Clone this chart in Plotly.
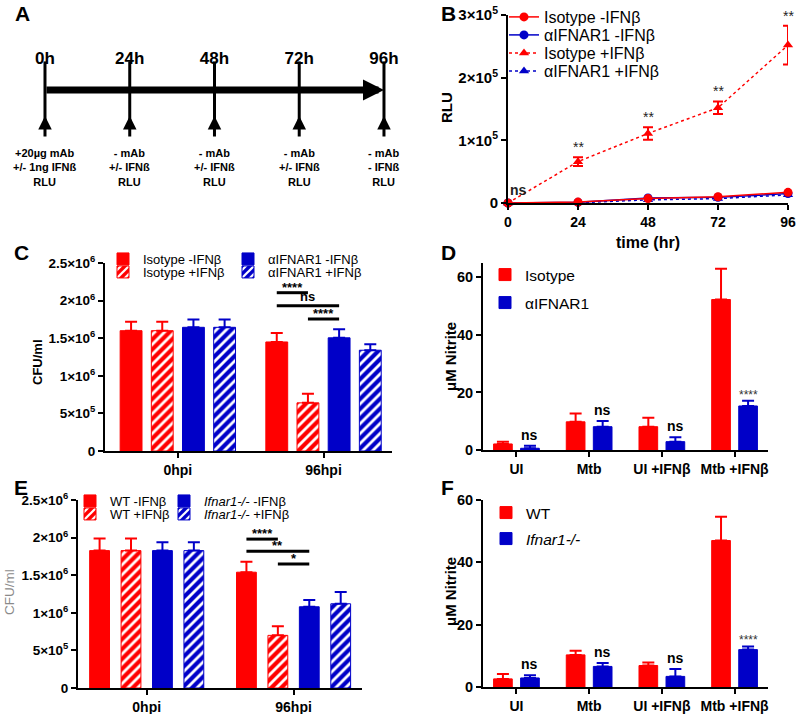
import plotly.graph_objects as go

W, H = 800, 714
def fx(p): return p / W
def fy(p): return 1 - p / H

RED = '#FF0000'
BLUE = '#0000C8'
FONT = 'Liberation Sans, Arial, sans-serif'

# ---------------- data ----------------
# Panel A (timeline)
timeline_hours = [0, 24, 48, 72, 96]
timeline_labels = ['0h', '24h', '48h', '72h', '96h']
timeline_notes = ['+20µg mAb<br>+/- 1ng IFNß<br>RLU',
                  '- mAb<br>+/- IFNß<br>RLU',
                  '- mAb<br>+/- IFNß<br>RLU',
                  '- mAb<br>+/- IFNß<br>RLU',
                  '- mAb<br>- IFNß<br>RLU']

# Panel B (RLU over time)
time_hr = [0, 24, 48, 72, 96]
rlu_iso_minus = [0, 1500, 7000, 10000, 17000]
rlu_anti_minus = [0, 1000, 8000, 9000, 15000]
rlu_iso_plus = [0, 66000, 111000, 152000, 252000]
rlu_iso_plus_err = [0, 7000, 10000, 10000, 31000]
rlu_anti_plus = [0, 500, 5000, 7000, 13000]
rlu_sig = ['ns', '**', '**', '**', '**']

# Panel C (CFU, antibody)
cfu_groups = ['0hpi', '96hpi']
c_iso_minus = [1.60e6, 1.45e6]
c_iso_minus_err = [0.12e6, 0.12e6]
c_iso_plus = [1.60e6, 0.64e6]
c_iso_plus_err = [0.12e6, 0.12e6]
c_anti_minus = [1.645e6, 1.505e6]
c_anti_minus_err = [0.105e6, 0.115e6]
c_anti_plus = [1.645e6, 1.34e6]
c_anti_plus_err = [0.105e6, 0.08e6]
c_brackets = [(0, 1, 2.105e6, '****'), (0, 2, 1.93e6, 'ns'), (1, 2, 1.755e6, '****')]

# Panel D (nitrite, antibody)
nitrite_cats = ['UI', 'Mtb', 'UI +IFNβ', 'Mtb +IFNβ']
d_iso = [2.1, 9.8, 8.1, 52.3]
d_iso_err = [0.8, 2.9, 3.1, 10.7]
d_anti = [0.6, 8.1, 2.9, 15.3]
d_anti_err = [0.9, 2.0, 1.5, 1.8]
d_sig = ['ns', 'ns', 'ns', '****']

# Panel E (CFU, knockout)
e_wt_minus = [1.827e6, 1.54e6]
e_wt_minus_err = [0.16e6, 0.14e6]
e_wt_plus = [1.827e6, 0.70e6]
e_wt_plus_err = [0.16e6, 0.12e6]
e_ko_minus = [1.827e6, 1.08e6]
e_ko_minus_err = [0.11e6, 0.09e6]
e_ko_plus = [1.827e6, 1.12e6]
e_ko_plus_err = [0.11e6, 0.155e6]
e_brackets = [(0, 1, 1.98e6, '****'), (0, 2, 1.82e6, '**'), (1, 2, 1.65e6, '*')]

# Panel F (nitrite, knockout)
f_wt = [2.6, 10.3, 6.9, 47.0]
f_wt_err = [1.6, 1.3, 1.0, 7.6]
f_ko = [2.9, 6.6, 3.4, 12.0]
f_ko_err = [0.9, 1.1, 2.4, 1.0]
f_sig = ['ns', 'ns', 'ns', '****']

cfu_tickvals = [0, 5e5, 1e6, 1.5e6, 2e6, 2.5e6]
cfu_ticktext = ['0', '5×10<sup>5</sup>', '1×10<sup>6</sup>', '1.5×10<sup>6</sup>',
                '2×10<sup>6</sup>', '2.5×10<sup>6</sup>']
rlu_tickvals = [0, 1e5, 2e5, 3e5]
rlu_ticktext = ['0', '1×10<sup>5</sup>', '2×10<sup>5</sup>', '3×10<sup>5</sup>']

# ---------------- figure ----------------
fig = go.Figure()
annotations = []
shapes = []

# ---- Panel A ----
fig.add_trace(go.Scatter(x=timeline_hours, y=[91.5] * len(timeline_hours), mode='markers',
                         marker=dict(symbol='line-ns', size=43, line=dict(width=3, color='black')),
                         xaxis='x6', yaxis='y6', showlegend=False, hoverinfo='skip'))
fig.add_trace(go.Scatter(x=timeline_hours, y=[60] * len(timeline_hours), mode='text',
                         text=timeline_labels,
                         textfont=dict(family=FONT, size=17, color='black', weight='bold'),
                         xaxis='x6', yaxis='y6', showlegend=False, hoverinfo='skip'))
annotations.append(dict(x=timeline_hours[-1], y=90, ax=timeline_hours[0], ay=90,
                        xref='x6', yref='y6', axref='x6', ayref='y6', text='',
                        showarrow=True, arrowhead=2, arrowwidth=7, arrowsize=0.6, arrowcolor='black'))
for t, note in zip(timeline_hours, timeline_notes):
    annotations.append(dict(x=t, y=116, ax=t, ay=138, xref='x6', yref='y6', axref='x6', ayref='y6',
                            text='', showarrow=True, arrowhead=2, arrowwidth=3, arrowsize=0.9,
                            arrowcolor='black'))
    annotations.append(dict(x=t, y=167, xref='x6', yref='y6', text=note, showarrow=False,
                            font=dict(family=FONT, size=11, color='black', weight='bold'),
                            xanchor='center', yanchor='middle'))

# ---- Panel B ----
b_series = [
    ('αIFNAR1 +IFNβ', rlu_anti_plus, None, BLUE, 'triangle-up', 'dot', 'legend16'),
    ('αIFNAR1 -IFNβ', rlu_anti_minus, None, BLUE, 'circle', 'solid', 'legend14'),
    ('Isotype +IFNβ', rlu_iso_plus, rlu_iso_plus_err, RED, 'triangle-up', 'dot', 'legend15'),
    ('Isotype -IFNβ', rlu_iso_minus, None, RED, 'circle', 'solid', 'legend'),
]
for name, vals, err, col, sym, dash, lg in b_series:
    fig.add_trace(go.Scatter(
        x=time_hr, y=vals, name=name, mode='lines+markers',
        line=dict(color=col, width=1.5, dash=dash),
        marker=dict(color=col, symbol=sym, size=9),
        error_y=(dict(type='data', array=err, color=col, thickness=2, width=5)
                 if err is not None else dict(visible=False)),
        xaxis='x', yaxis='y', legend=lg, cliponaxis=False))
for t, v, e, s in zip(time_hr, rlu_iso_plus, rlu_iso_plus_err, rlu_sig):
    if s == 'ns':
        annotations.append(dict(x=t, y=v, xref='x', yref='y', text=s, showarrow=False,
                                xanchor='left', yanchor='bottom', yshift=3,
                                font=dict(family=FONT, size=14, color='#222', weight='bold')))
    else:
        annotations.append(dict(x=t, y=v + e, xref='x', yref='y', text=s, showarrow=False,
                                xanchor='center', yanchor='bottom', yshift=0,
                                font=dict(family=FONT, size=14, color='#222')))

# ---- helper for grouped bars ----
def add_bars(xa, ya, cats, series, width, centers):
    for (name, vals, errs, col, hatched, lg), c in zip(series, centers):
        fig.add_trace(go.Bar(
            x=cats, y=vals, name=name, width=width, offset=c - width / 2,
            marker=dict(color=col, line=dict(color=col, width=1),
                        pattern=dict(shape='/' if hatched else '', fgcolor='white',
                                     bgcolor=col, size=7, solidity=0.4)),
            error_y=dict(type='data', array=errs, arrayminus=[0] * len(errs), symmetric=False,
                         color=col, thickness=2, width=6),
            xaxis=xa, yaxis=ya, legend=lg, showlegend=True))

slot4 = 0.214
centers4 = [(k - 1.5) * slot4 for k in range(4)]

# ---- Panel C ----
c_series = [
    ('Isotype -IFNβ', c_iso_minus, c_iso_minus_err, RED, False, 'legend2'),
    ('Isotype +IFNβ', c_iso_plus, c_iso_plus_err, RED, True, 'legend3'),
    ('αIFNAR1 -IFNβ', c_anti_minus, c_anti_minus_err, BLUE, False, 'legend4'),
    ('αIFNAR1 +IFNβ', c_anti_plus, c_anti_plus_err, BLUE, True, 'legend5'),
]
add_bars('x2', 'y2', cfu_groups, c_series, 0.15, centers4)
for i, j, yv, lab in c_brackets:
    x0 = 1 + centers4[i]
    x1 = 1 + centers4[j]
    shapes.append(dict(type='line', xref='x2', yref='y2', x0=x0, x1=x1, y0=yv, y1=yv,
                       line=dict(color='black', width=3)))
    annotations.append(dict(x=(x0 + x1) / 2, y=yv, xref='x2', yref='y2', text=lab,
                            showarrow=False, yanchor='bottom', yshift=(-4 if '*' in lab else 0),
                            font=dict(family=FONT, size=13, color='black', weight='bold')))

# ---- Panel E ----
e_series = [
    ('WT -IFNβ', e_wt_minus, e_wt_minus_err, RED, False, 'legend8'),
    ('WT +IFNβ', e_wt_plus, e_wt_plus_err, RED, True, 'legend9'),
    ('<i>Ifnar1-/-</i> -IFNβ', e_ko_minus, e_ko_minus_err, BLUE, False, 'legend10'),
    ('<i>Ifnar1-/-</i> +IFNβ', e_ko_plus, e_ko_plus_err, BLUE, True, 'legend11'),
]
add_bars('x4', 'y4', cfu_groups, e_series, 0.135, centers4)
for i, j, yv, lab in e_brackets:
    x0 = 1 + centers4[i]
    x1 = 1 + centers4[j]
    shapes.append(dict(type='line', xref='x4', yref='y4', x0=x0, x1=x1, y0=yv, y1=yv,
                       line=dict(color='black', width=3)))
    annotations.append(dict(x=(x0 + x1) / 2, y=yv, xref='x4', yref='y4', text=lab,
                            showarrow=False, yanchor='bottom', yshift=-4,
                            font=dict(family=FONT, size=13, color='black', weight='bold')))

# ---- Panels D & F ----
slot2 = 0.372
centers2 = [-slot2 / 2, slot2 / 2]
add_bars('x3', 'y3', nitrite_cats, [
    ('Isotype', d_iso, d_iso_err, RED, False, 'legend6'),
    ('αIFNAR1', d_anti, d_anti_err, BLUE, False, 'legend7'),
], 0.257, centers2)
add_bars('x5', 'y5', nitrite_cats, [
    ('WT', f_wt, f_wt_err, RED, False, 'legend12'),
    ('<i>Ifnar1-/-</i>', f_ko, f_ko_err, BLUE, False, 'legend13'),
], 0.257, centers2)
for xr, yr, vals, errs, sigs in [('x3', 'y3', d_anti, d_anti_err, d_sig),
                                 ('x5', 'y5', f_ko, f_ko_err, f_sig)]:
    for k, (v, e, s) in enumerate(zip(vals, errs, sigs)):
        star = s.startswith('*')
        annotations.append(dict(x=k + centers2[1], y=v + e, xref=xr, yref=yr, text=s,
                                showarrow=False, yanchor='bottom', yshift=(-3 if star else 1),
                                font=dict(family=FONT, size=(12 if star else 14),
                                          color=('#333' if star else 'black'),
                                          weight=('normal' if star else 'bold'))))

# ---------------- axes ----------------
def ax(**kw):
    d = dict(showline=True, linecolor='black', linewidth=2, ticks='outside', ticklen=5,
             tickwidth=2, tickcolor='black', showgrid=False, zeroline=False, mirror=False,
             ticklabeloverflow='allow',
             tickfont=dict(family=FONT, size=13.5, color='black', weight='bold'))
    d.update(kw)
    return d

def tf(size):
    return dict(family=FONT, size=size, color='black', weight='bold')

layout_axes = dict(
    xaxis=ax(domain=[fx(508), fx(788)], range=[0, 96], tickvals=time_hr, anchor='y',
             tickfont=tf(14)),
    yaxis=ax(domain=[fy(203), fy(15)], range=[0, 3e5], tickvals=rlu_tickvals,
             ticktext=rlu_ticktext, anchor='x', tickfont=tf(15)),
    xaxis2=ax(domain=[fx(105), fx(392)], range=[-0.5, 1.47], type='category', anchor='y2',
              tickfont=tf(14)),
    yaxis2=ax(domain=[fy(451), fy(263)], range=[0, 2.5e6], tickvals=cfu_tickvals,
              ticktext=cfu_ticktext, anchor='x2'),
    xaxis3=ax(domain=[fx(483), fx(768)], range=[-0.46, 3.46], type='category', anchor='y3',
              tickfont=tf(14)),
    yaxis3=ax(domain=[fy(450), fy(263)], range=[0, 65], tickvals=[0, 20, 40, 60], anchor='x3',
              tickfont=tf(14.5)),
    xaxis4=ax(domain=[fx(78), fx(362)], range=[-0.468, 1.466], type='category', anchor='y4',
              tickfont=tf(14)),
    yaxis4=ax(domain=[fy(688), fy(500)], range=[0, 2.5e6], tickvals=cfu_tickvals,
              ticktext=cfu_ticktext, anchor='x4'),
    xaxis5=ax(domain=[fx(483), fx(768)], range=[-0.46, 3.46], type='category', anchor='y5',
              tickfont=tf(14)),
    yaxis5=ax(domain=[fy(687), fy(500)], range=[0, 60], tickvals=[0, 20, 40, 60], anchor='x5',
              tickfont=tf(14.5)),
    xaxis6=dict(domain=[0, fx(420)], range=[-12.74, 106.2], visible=False, anchor='y6'),
    yaxis6=dict(domain=[fy(240), 1], range=[240, 0], visible=False, anchor='x6'),
)

# ---------------- axis titles & panel letters ----------------
def title(x, y, text, size, color='black', weight='bold', angle=0):
    annotations.append(dict(x=fx(x), y=fy(y), xref='paper', yref='paper', text=text,
                            showarrow=False, textangle=angle, xanchor='center', yanchor='middle',
                            font=dict(family=FONT, size=size, color=color, weight=weight)))

title(446, 108, 'RLU', 15, angle=-90)
title(648, 242, 'time (hr)', 16)
title(37, 362, 'CFU/ml', 13, angle=-90)
title(450, 357, 'μM Nitrite', 15, angle=-90)
title(9, 592, 'CFU/ml', 13.5, color='#8a8a8a', weight='normal', angle=-90)
title(450, 592, 'μM Nitrite', 15, angle=-90)
for letter, x, y in [('A', 22, 13), ('B', 448, 13), ('C', 21, 252), ('D', 448, 252),
                     ('E', 21, 487), ('F', 447, 487)]:
    title(x, y, letter, 21)

# ---------------- legends ----------------
TXT_OFF = 42  # legend text starts this far right of the legend's left edge
def leg(text_x, y, size):
    return dict(x=fx(text_x - TXT_OFF), y=fy(y), xanchor='left', yanchor='middle',
                bgcolor='rgba(0,0,0,0)', borderwidth=0,
                font=dict(family=FONT, size=size, color='black'),
                tracegroupgap=0, itemwidth=30)

legends = dict(
    legend=leg(546, 17, 16), legend14=leg(546, 35, 16),
    legend15=leg(546, 53, 16), legend16=leg(546, 71, 16),
    legend2=leg(145, 259, 13), legend3=leg(145, 272, 13),
    legend4=leg(270, 259, 13), legend5=leg(270, 272, 13),
    legend6=leg(527, 275, 15.5), legend7=leg(527, 303, 15.5),
    legend8=leg(112, 501, 13), legend9=leg(112, 514, 13),
    legend10=leg(206, 501, 13), legend11=leg(206, 514, 13),
    legend12=leg(528, 513, 15.5), legend13=leg(528, 539, 15.5),
)

fig.update_layout(
    width=W, height=H, margin=dict(l=0, r=0, t=0, b=0), autosize=False,
    template='none', paper_bgcolor='white', plot_bgcolor='rgba(0,0,0,0)',
    barmode='overlay', showlegend=True,
    font=dict(family=FONT, color='black'),
    annotations=annotations, shapes=shapes,
    **layout_axes, **legends,
)

# remove the browser's default 8px body margin so the 800x714 figure fills the window
fig.write_html('out.html', config={'displayModeBar': False},
               post_script="document.body.style.margin='0';document.body.style.overflow='hidden';")
